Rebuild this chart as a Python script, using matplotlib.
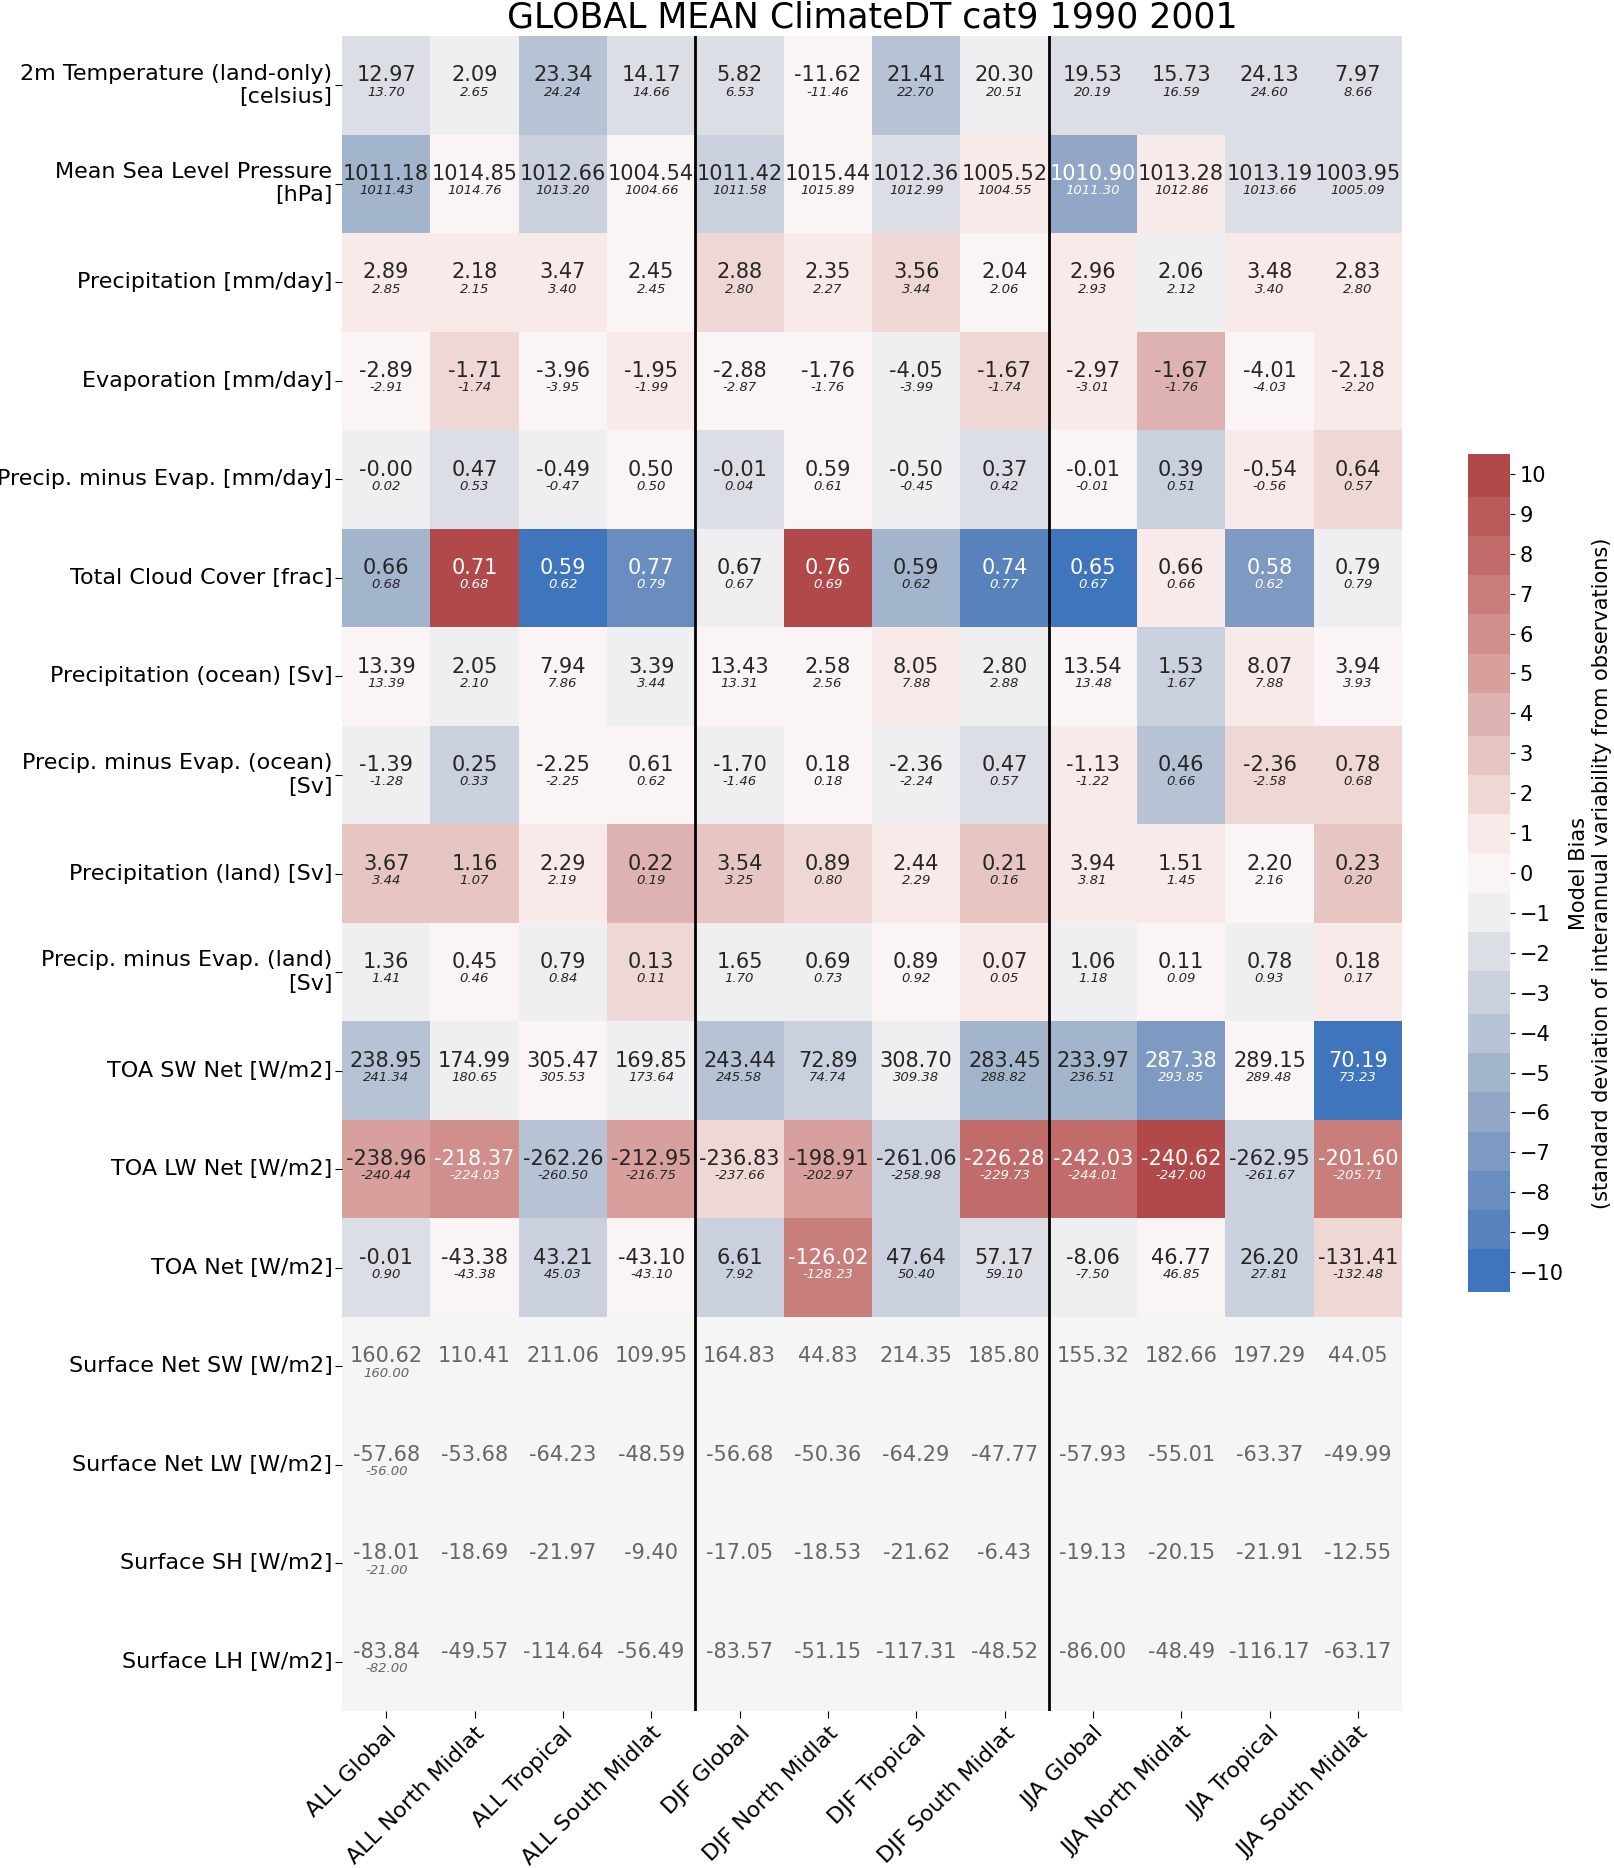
import numpy as np
import matplotlib
matplotlib.use("Agg")
import matplotlib.pyplot as plt
from matplotlib.colors import ListedColormap, to_rgb
import seaborn as sns

# ---------------------------------------------------------
# data
# ---------------------------------------------------------
variables = [
    "2m Temperature (land-only)\n[celsius]",
    "Mean Sea Level Pressure\n[hPa]",
    "Precipitation [mm/day]",
    "Evaporation [mm/day]",
    "Precip. minus Evap. [mm/day]",
    "Total Cloud Cover [frac]",
    "Precipitation (ocean) [Sv]",
    "Precip. minus Evap. (ocean)\n[Sv]",
    "Precipitation (land) [Sv]",
    "Precip. minus Evap. (land)\n[Sv]",
    "TOA SW Net [W/m2]",
    "TOA LW Net [W/m2]",
    "TOA Net [W/m2]",
    "Surface Net SW [W/m2]",
    "Surface Net LW [W/m2]",
    "Surface SH [W/m2]",
    "Surface LH [W/m2]",
]

regions = [
    "ALL Global", "ALL North Midlat", "ALL Tropical", "ALL South Midlat",
    "DJF Global", "DJF North Midlat", "DJF Tropical", "DJF South Midlat",
    "JJA Global", "JJA North Midlat", "JJA Tropical", "JJA South Midlat",
]

nan = np.nan

model_vals = [
    [12.97, 2.09, 23.34, 14.17, 5.82, -11.62, 21.41, 20.30, 19.53, 15.73, 24.13, 7.97],
    [1011.18, 1014.85, 1012.66, 1004.54, 1011.42, 1015.44, 1012.36, 1005.52, 1010.90, 1013.28, 1013.19, 1003.95],
    [2.89, 2.18, 3.47, 2.45, 2.88, 2.35, 3.56, 2.04, 2.96, 2.06, 3.48, 2.83],
    [-2.89, -1.71, -3.96, -1.95, -2.88, -1.76, -4.05, -1.67, -2.97, -1.67, -4.01, -2.18],
    [-0.004, 0.47, -0.49, 0.50, -0.01, 0.59, -0.50, 0.37, -0.01, 0.39, -0.54, 0.64],
    [0.66, 0.71, 0.59, 0.77, 0.67, 0.76, 0.59, 0.74, 0.65, 0.66, 0.58, 0.79],
    [13.39, 2.05, 7.94, 3.39, 13.43, 2.58, 8.05, 2.80, 13.54, 1.53, 8.07, 3.94],
    [-1.39, 0.25, -2.25, 0.61, -1.70, 0.18, -2.36, 0.47, -1.13, 0.46, -2.36, 0.78],
    [3.67, 1.16, 2.29, 0.22, 3.54, 0.89, 2.44, 0.21, 3.94, 1.51, 2.20, 0.23],
    [1.36, 0.45, 0.79, 0.13, 1.65, 0.69, 0.89, 0.07, 1.06, 0.11, 0.78, 0.18],
    [238.95, 174.99, 305.47, 169.85, 243.44, 72.89, 308.70, 283.45, 233.97, 287.38, 289.15, 70.19],
    [-238.96, -218.37, -262.26, -212.95, -236.83, -198.91, -261.06, -226.28, -242.03, -240.62, -262.95, -201.60],
    [-0.01, -43.38, 43.21, -43.10, 6.61, -126.02, 47.64, 57.17, -8.06, 46.77, 26.20, -131.41],
    [160.62, 110.41, 211.06, 109.95, 164.83, 44.83, 214.35, 185.80, 155.32, 182.66, 197.29, 44.05],
    [-57.68, -53.68, -64.23, -48.59, -56.68, -50.36, -64.29, -47.77, -57.93, -55.01, -63.37, -49.99],
    [-18.01, -18.69, -21.97, -9.40, -17.05, -18.53, -21.62, -6.43, -19.13, -20.15, -21.91, -12.55],
    [-83.84, -49.57, -114.64, -56.49, -83.57, -51.15, -117.31, -48.52, -86.00, -48.49, -116.17, -63.17],
]

obs_vals = [
    [13.70, 2.65, 24.24, 14.66, 6.53, -11.46, 22.70, 20.51, 20.19, 16.59, 24.60, 8.66],
    [1011.43, 1014.76, 1013.20, 1004.66, 1011.58, 1015.89, 1012.99, 1004.55, 1011.30, 1012.86, 1013.66, 1005.09],
    [2.85, 2.15, 3.40, 2.45, 2.80, 2.27, 3.44, 2.06, 2.93, 2.12, 3.40, 2.80],
    [-2.91, -1.74, -3.95, -1.99, -2.87, -1.76, -3.99, -1.74, -3.01, -1.76, -4.03, -2.20],
    [0.02, 0.53, -0.47, 0.50, 0.04, 0.61, -0.45, 0.42, -0.01, 0.51, -0.56, 0.57],
    [0.68, 0.68, 0.62, 0.79, 0.67, 0.69, 0.62, 0.77, 0.67, 0.66, 0.62, 0.79],
    [13.39, 2.10, 7.86, 3.44, 13.31, 2.56, 7.88, 2.88, 13.48, 1.67, 7.88, 3.93],
    [-1.28, 0.33, -2.25, 0.62, -1.46, 0.18, -2.24, 0.57, -1.22, 0.66, -2.58, 0.68],
    [3.44, 1.07, 2.19, 0.19, 3.25, 0.80, 2.29, 0.16, 3.81, 1.45, 2.16, 0.20],
    [1.41, 0.46, 0.84, 0.11, 1.70, 0.73, 0.92, 0.05, 1.18, 0.09, 0.93, 0.17],
    [241.34, 180.65, 305.53, 173.64, 245.58, 74.74, 309.38, 288.82, 236.51, 293.85, 289.48, 73.23],
    [-240.44, -224.03, -260.50, -216.75, -237.66, -202.97, -258.98, -229.73, -244.01, -247.00, -261.67, -205.71],
    [0.90, -43.38, 45.03, -43.10, 7.92, -128.23, 50.40, 59.10, -7.50, 46.85, 27.81, -132.48],
    [160.00] + [nan] * 11,
    [-56.00] + [nan] * 11,
    [-21.00] + [nan] * 11,
    [-82.00] + [nan] * 11,
]

# bias in units of interannual std
bias_sigma = [
    [-2, -1, -4, -2, -2, 0, -4, -1, -2, -2, -2, -2],
    [-5, 0, -3, 0, -3, 0, -2, 1, -6, 1, -2, -2],
    [1, 1, 1, 0, 2, 1, 2, 0, 1, -1, 1, 1],
    [0, 2, 0, 1, 0, 0, -1, 2, 1, 4, 0, 1],
    [-1, -2, -1, 0, -2, 0, -1, -2, 0, -3, 1, 2],
    [-5, 10, -10, -8, -1, 10, -5, -9, -10, 1, -7, -1],
    [0, -1, 0, -1, 0, 0, 1, -1, 0, -3, 1, 0],
    [-1, -3, 0, 0, -1, 0, -1, -2, 1, -4, 2, 2],
    [3, 3, 1, 4, 3, 2, 1, 3, 1, 1, 0, 3],
    [-1, 0, -1, 2, -1, -1, 0, 1, -1, 0, -1, 1],
    [-4, -1, 0, -1, -4, -3, -1, -5, -5, -7, 0, -10],
    [5, 6, -4, 5, 2, 5, -3, 8, 8, 10, -3, 7],
    [-2, 0, -3, 0, -3, 7, -3, -2, -1, 0, -3, 2],
    [nan] * 12,
    [nan] * 12,
    [nan] * 12,
    [nan] * 12,
]

title = "GLOBAL MEAN ClimateDT cat9 1990 2001"
thr = 10

# ---------------------------------------------------------
# plot
# ---------------------------------------------------------
bias = np.array(bias_sigma, dtype=float)
model = np.array(model_vals, dtype=float)
obs = np.array(obs_vals, dtype=float)

pal = sns.color_palette("vlag", n_colors=2 * thr + 1)
cmap = ListedColormap(pal)

fig = plt.figure(figsize=(16.14, 18.68), dpi=100)
ax = fig.add_axes([342 / 1614, 1 - 1711 / 1868, 1060 / 1614, 1675 / 1868])
cax = fig.add_axes([1468 / 1614, 1 - 1292 / 1868, 42 / 1614, 838 / 1868])

sns.heatmap(bias, ax=ax, cbar_ax=cax, cmap=cmap,
            vmin=-thr - 0.5, vmax=thr + 0.5, center=0,
            mask=np.isnan(bias),
            cbar_kws={"ticks": range(-thr, thr + 1)})
ax.set_facecolor("whitesmoke")


def lum(c):
    rgb = np.array(to_rgb(c))
    rgb = np.where(rgb <= .03928, rgb / 12.92, ((rgb + .055) / 1.055) ** 2.4)
    return rgb.dot([.2126, .7152, .0722])


norm = plt.Normalize(-thr - 0.5, thr + 0.5)
for i in range(model.shape[0]):
    for j in range(model.shape[1]):
        if np.isnan(bias[i, j]):
            tc = "#666666"
        else:
            tc = ".15" if lum(cmap(norm(bias[i, j]))) > .408 else "w"
        ax.text(j + 0.5, i + 0.40, f"{model[i, j]:.2f}", ha="center", va="center",
                fontsize=15, color=tc)
        if not np.isnan(obs[i, j]):
            ax.text(j + 0.5, i + 0.57, f"{obs[i, j]:.2f}", ha="center", va="center",
                    fontsize=9.5, style="italic", color=tc)

# separators between seasons
ax.axvline(4, color="k", lw=2)
ax.axvline(8, color="k", lw=2)

ax.set_xticks(np.arange(len(regions)) + 0.5)
ax.set_xticklabels(regions, rotation=45, ha="right", rotation_mode="anchor", fontsize=16)
ax.set_yticks(np.arange(len(variables)) + 0.5)
ax.set_yticklabels(variables, rotation=0, fontsize=16)
ax.tick_params(axis="both", length=5)
ax.tick_params(axis="y", pad=2)
ax.set_title(title, fontsize=25, pad=6)

cax.tick_params(labelsize=15)
cax.set_ylabel("Model Bias\n(standard deviation of interannual variability from observations)",
               fontsize=15)
cax.yaxis.set_label_position("right")

fig.savefig("out.png", dpi=100)
